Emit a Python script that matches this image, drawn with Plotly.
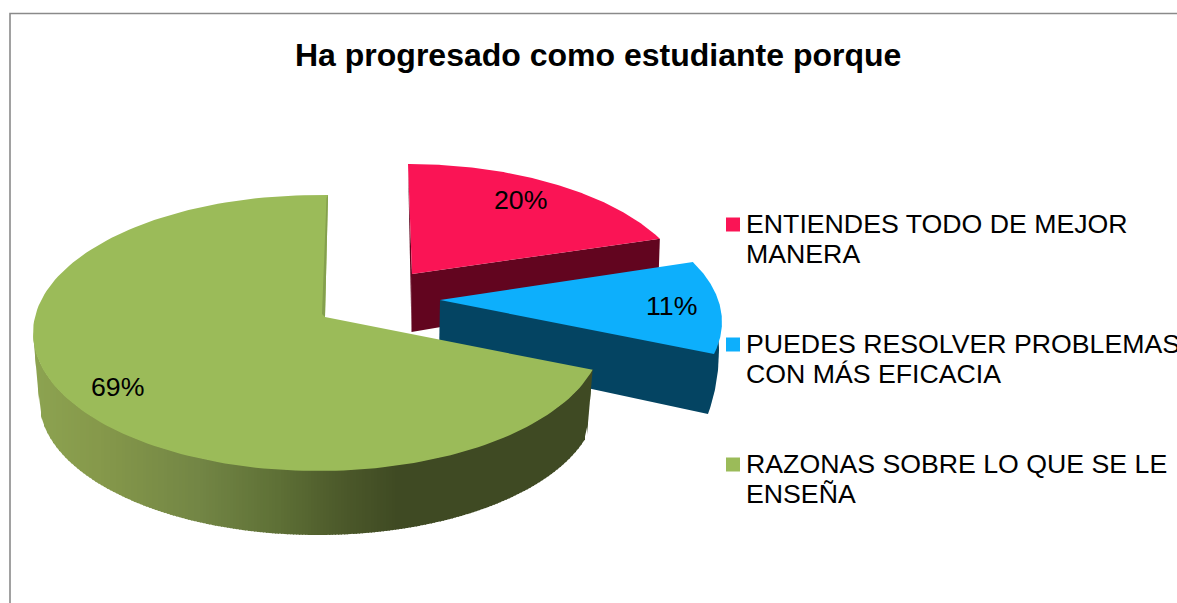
import numpy as np
import plotly.graph_objects as go

# ---- data ----
TITLE = "Ha progresado como estudiante porque"
CATEGORIES = [
    ["ENTIENDES TODO DE MEJOR", "MANERA"],
    ["PUEDES RESOLVER PROBLEMAS", "CON MÁS EFICACIA"],
    ["RAZONAS SOBRE LO QUE SE LE", "ENSEÑA"],
]
VALUES = [20, 11, 69]

# ---- styles / projection of the tilted, exploded pie ----
W, H = 1177, 603
FONT = "Liberation Sans"
CAP = ["#FA1455", "#0DAFFC", "#9BBB59"]
WALL = ["#62051F", "#044462", None]
GREEN_INNER = "#84A04D"
GREEN_STOPS = [(33, "#8DA451"), (100, "#86994B"), (200, "#738645"), (280, "#5E7036"),
               (340, "#4D5A2B"), (400, "#3F4A23"), (620, "#3F4A23")]
# top ellipse (cx, cy, a, b), apex, base apex, perspective shift of the rim
GEOM = [
    dict(top=(408, 303, 284, 139), apex=(412, 274), base=(411.5, 332), tilt=complex(0, -.09),
         bottom=(408, 350, 282, 130)),
    dict(top=(429, 322, 293, 138), apex=(440, 300), base=(439, 356), tilt=complex(0, -.075),
         bottom=(634, 350, 85, 130), arc=(-10, 29.5)),
    dict(top=(318, 333, 285, 138), apex=(325, 317), base=(325, 317), tilt=complex(.0185, -.05),
         bottom=(318, 400, 279, 135)),
]
LABEL_POS = [(520, 200), (671, 306), (117, 387)]
LEGEND_X = 733
LEGEND_TEXT_X = 744
LEGEND_Y = [(224, 254), (344, 374), (464, 494)]
LEGEND_FONT = 26.7
LABEL_FONT = 26.7
TITLE_FONT = 32


def rim_phi(theta_deg, tilt):
    """Screen ellipse angle (deg, y down) of a true pie angle measured clockwise from 12 o'clock."""
    t = np.radians(theta_deg)
    z = np.sin(t) - 1j * np.cos(t)
    return np.degrees(np.angle((z + tilt) / (1 + np.conj(tilt) * z)))


def ell(e, phi):
    cx, cy, a, b = e
    p = np.radians(phi)
    return cx + a * np.cos(p), cy + b * np.sin(p)


def poly(xs, ys, color, line=0.0):
    return go.Scatter(x=list(xs), y=list(ys), mode="lines", fill="toself", fillcolor=color,
                      line=dict(color=color, width=line), hoverinfo="skip", showlegend=False)


def lerp_color(x):
    xs = [s[0] for s in GREEN_STOPS]
    rgb = [[int(s[1][i:i + 2], 16) for s in GREEN_STOPS] for i in (1, 3, 5)]
    return "rgb(%d,%d,%d)" % tuple(np.interp(x, xs, c) for c in rgb)


fig = go.Figure()

# frame
fig.add_trace(go.Scatter(x=[10, 10, W], y=[H, 13.5, 13.5], mode="lines",
                         line=dict(color="#8A8A8A", width=1.6), hoverinfo="skip", showlegend=False))

cum = np.cumsum([0] + VALUES) / sum(VALUES) * 360
for i, g in enumerate(GEOM):
    a0, a1 = cum[i], cum[i + 1]
    ps = rim_phi(a0, g["tilt"])
    pe = rim_phi(a1, g["tilt"])
    if pe < ps:
        pe += 360
    ang = np.linspace(ps, pe, 160)
    cx, cy = ell(g["top"], ang)
    sx, sy = ell(g["top"], ps)
    ex, ey = ell(g["top"], pe)
    ax, ay = g["apex"]
    bx, by = g["base"]
    if i == 0:
        # inner sliver at the start edge and the cut wall at the end edge
        fig.add_trace(poly([sx, ax, bx], [sy, ay, by], WALL[0]))
        bex, bey = ell(g["bottom"], pe)
        fig.add_trace(poly([ax, ex, bex, bx], [ay, ey, bey, by], WALL[0]))
    elif i == 1:
        bang = np.linspace(*g["arc"], 40)
        wx, wy = ell(g["bottom"], bang)
        fig.add_trace(poly([ax, *wx, bx], [ay, *wy, by], WALL[1]))
    else:
        # curved wall: vertical shading bands between the cap rim and the base rim
        arc = np.linspace(ps, 180, 300)
        tx, ty = ell(g["top"], arc)
        ux, uy = ell(g["bottom"], arc)
        low_x = np.r_[tx[-1], ux[::-1], tx[0]]
        low_y = np.r_[ty[-1], uy[::-1], ty[0]]
        up_x, up_y = tx[::-1], ty[::-1]
        cols = np.arange(np.ceil(tx.min()) - 1, tx.max() + 1, 3.0)
        for x1 in cols:
            x2 = min(x1 + 4, tx.max())
            xs = np.array([x1, x2])
            xs = np.clip(xs, tx.min(), tx.max())
            yu = np.interp(xs, up_x, up_y) - 1
            yl = np.interp(xs, low_x, low_y)
            fig.add_trace(poly([xs[0], xs[1], xs[1], xs[0]], [yu[0], yu[1], yl[1], yl[0]],
                               lerp_color(xs.mean())))
    fig.add_trace(poly([ax, *cx], [ay, *cy], CAP[i]))
    if i == 2:
        # thin inner wall seen along the closing edge
        fig.add_trace(poly([ex, ax, ax - 3, ex - 1.5], [ey, ay, ay - 3, ey + 3], GREEN_INNER))

# legend swatches
fig.add_trace(go.Scatter(x=[LEGEND_X] * 3, y=[p[0] + 0.5 for p in LEGEND_Y], mode="markers",
                         marker=dict(symbol="square", size=14, color=CAP, line=dict(width=0)),
                         hoverinfo="skip", showlegend=False))

ann = []
for v, (x, y) in zip(VALUES, LABEL_POS):
    ann.append(dict(x=x, y=y, text=f"{v}%", showarrow=False,
                    font=dict(family=FONT, size=LABEL_FONT, color="#000000")))
for lines, ys in zip(CATEGORIES, LEGEND_Y):
    for t, y in zip(lines, ys):
        ann.append(dict(x=LEGEND_TEXT_X, y=y, text=t, showarrow=False, xanchor="left",
                        font=dict(family=FONT, size=LEGEND_FONT, color="#000000")))
ann.append(dict(x=598, y=55, text=f"<b>{TITLE}</b>", showarrow=False,
                font=dict(family=FONT, size=TITLE_FONT, color="#000000")))

fig.update_layout(
    width=W, height=H, margin=dict(l=0, r=0, t=0, b=0), showlegend=False,
    paper_bgcolor="white", plot_bgcolor="white", hovermode=False, annotations=ann,
    xaxis=dict(range=[0, W], visible=False, fixedrange=True),
    yaxis=dict(range=[H, 0], visible=False, fixedrange=True),
)
fig.write_html("out.html", config=dict(displayModeBar=False),
               post_script="document.body.style.margin='0';document.body.style.overflow='hidden';")
